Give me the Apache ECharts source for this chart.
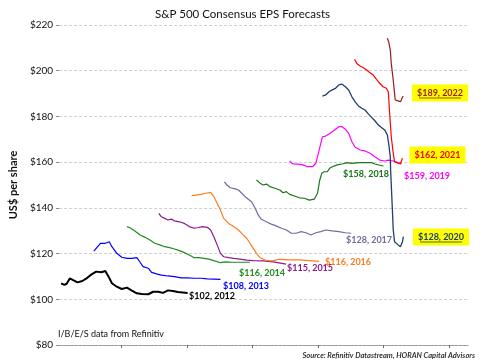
<!DOCTYPE html>
<html>
<head>
<meta charset="utf-8">
<script src="https://cdn.jsdelivr.net/npm/echarts@6/dist/echarts.min.js"></script>
<style>html,body{margin:0;padding:0;background:#fff}#c{width:485px;height:363px}</style>
</head>
<body>
<div id="c"></div>
<script>
// x = time (decimal years), y = consensus EPS (US$)
const eps2012 = [[2010.16,107.0],[2010.26,106.3],[2010.33,106.8],[2010.43,109.2],[2010.53,108.4],[2010.66,107.4],[2010.81,108.0],[2010.96,109.4],[2011.09,110.9],[2011.23,112.1],[2011.39,111.8],[2011.51,112.4],[2011.61,109.9],[2011.71,107.0],[2011.86,105.5],[2012.01,104.5],[2012.17,105.1],[2012.32,103.8],[2012.47,102.6],[2012.62,102.3],[2012.82,102.2],[2012.97,103.3],[2013.12,103.3],[2013.27,102.8],[2013.42,103.9],[2013.57,103.6],[2013.72,103.2],[2014.02,102.7]];
const eps2013 = [[2011.16,121.1],[2011.23,122.3],[2011.36,124.5],[2011.51,124.5],[2011.63,125.2],[2011.71,123.0],[2011.86,120.1],[2012.01,118.4],[2012.17,117.9],[2012.32,117.9],[2012.47,118.2],[2012.57,116.2],[2012.66,114.3],[2012.82,113.6],[2012.92,111.8],[2013.07,111.1],[2013.22,110.6],[2013.42,110.2],[2013.62,109.9],[2013.82,109.4],[2014.02,109.4],[2014.22,109.2],[2014.42,109.2],[2014.62,108.9],[2015.02,108.7]];
const eps2014 = [[2012.17,131.8],[2012.26,131.3],[2012.41,129.9],[2012.57,128.1],[2012.72,127.1],[2012.87,125.9],[2013.02,124.5],[2013.17,123.8],[2013.32,123.0],[2013.47,122.6],[2013.62,122.0],[2013.77,121.3],[2013.92,120.4],[2014.07,119.4],[2014.22,118.2],[2014.37,118.2],[2014.52,117.9],[2014.67,117.6],[2014.82,116.9],[2015.02,116.0],[2015.17,116.4],[2015.37,116.2],[2015.57,116.2],[2015.82,116.2],[2015.92,116.2]];
const eps2015 = [[2013.14,137.6],[2013.22,136.1],[2013.32,135.4],[2013.42,134.7],[2013.52,135.1],[2013.62,134.3],[2013.77,133.9],[2013.92,133.2],[2014.07,131.8],[2014.22,131.1],[2014.32,131.3],[2014.47,131.8],[2014.62,131.5],[2014.72,130.3],[2014.82,127.4],[2014.92,123.8],[2015.02,120.1],[2015.12,118.6],[2015.27,118.2],[2015.42,117.9],[2015.62,117.6],[2015.82,117.1],[2016.02,116.9],[2016.32,116.8],[2016.63,116.4],[2017.02,115.4]];
const eps2016 = [[2014.14,145.3],[2014.27,145.6],[2014.42,145.9],[2014.57,146.4],[2014.72,146.8],[2014.82,144.9],[2014.92,142.0],[2015.02,139.1],[2015.12,135.4],[2015.27,133.2],[2015.42,131.8],[2015.57,130.3],[2015.72,128.1],[2015.82,126.7],[2015.92,124.5],[2016.02,122.3],[2016.12,120.1],[2016.23,118.2],[2016.38,117.2],[2016.53,116.8],[2016.63,116.9],[2016.83,117.5],[2017.13,117.2],[2017.43,117.2],[2017.73,116.9],[2018.03,116.6]];
const eps2017 = [[2015.14,151.4],[2015.22,150.0],[2015.32,148.8],[2015.47,148.3],[2015.57,147.8],[2015.67,146.4],[2015.77,144.9],[2015.87,143.8],[2015.97,142.7],[2016.08,139.8],[2016.17,136.9],[2016.27,135.0],[2016.42,133.9],[2016.57,132.9],[2016.72,132.1],[2016.88,131.1],[2017.03,130.3],[2017.18,128.9],[2017.33,128.9],[2017.48,129.6],[2017.63,129.1],[2017.78,128.1],[2017.93,129.1],[2018.08,129.6],[2018.23,130.3],[2018.43,129.9],[2018.63,129.6],[2018.83,129.1],[2019.01,128.9]];
const eps2018 = [[2016.12,152.2],[2016.23,150.8],[2016.32,150.0],[2016.42,150.4],[2016.53,149.3],[2016.68,148.6],[2016.83,147.8],[2016.93,146.6],[2017.03,147.1],[2017.13,145.9],[2017.28,145.2],[2017.43,144.4],[2017.58,144.2],[2017.73,143.4],[2017.88,143.8],[2017.98,146.4],[2018.05,152.2],[2018.11,155.1],[2018.18,155.8],[2018.28,155.8],[2018.35,157.3],[2018.43,158.0],[2018.58,158.8],[2018.73,159.2],[2018.88,159.8],[2019.03,159.5],[2019.23,159.8],[2019.43,159.8],[2019.63,159.8],[2019.73,159.2],[2019.99,158.3]];
const eps2019 = [[2017.13,160.5],[2017.23,159.2],[2017.38,159.1],[2017.53,158.8],[2017.68,158.0],[2017.83,158.0],[2017.93,159.5],[2018.03,165.3],[2018.13,171.1],[2018.23,171.4],[2018.33,172.3],[2018.43,173.3],[2018.53,174.4],[2018.63,175.5],[2018.73,175.5],[2018.83,174.4],[2018.93,172.6],[2019.03,168.9],[2019.13,166.5],[2019.28,165.3],[2019.43,164.9],[2019.58,163.9],[2019.73,162.4],[2019.88,160.9],[2020.03,160.5],[2020.14,160.9],[2020.29,160.5],[2020.44,159.8],[2020.54,159.5]];
const eps2020 = [[2018.13,188.9],[2018.23,189.4],[2018.33,190.8],[2018.43,191.6],[2018.53,192.3],[2018.63,193.8],[2018.73,194.1],[2018.83,193.0],[2018.93,191.6],[2019.03,188.6],[2019.13,186.4],[2019.23,184.6],[2019.33,183.6],[2019.43,182.8],[2019.53,181.1],[2019.63,179.6],[2019.73,178.1],[2019.83,176.3],[2019.93,175.2],[2020.03,174.1],[2020.11,171.9],[2020.15,168.2],[2020.20,162.4],[2020.21,156.6],[2020.26,140.5],[2020.29,130.3],[2020.33,125.2],[2020.44,123.8],[2020.51,123.0],[2020.57,125.2],[2020.60,127.4]];
const eps2021 = [[2019.11,205.0],[2019.18,203.2],[2019.28,202.1],[2019.38,201.3],[2019.48,200.3],[2019.58,199.1],[2019.68,198.1],[2019.78,196.2],[2019.88,194.5],[2019.98,193.0],[2020.08,192.3],[2020.14,190.8],[2020.18,181.4],[2020.23,171.1],[2020.29,163.9],[2020.33,160.2],[2020.44,159.5],[2020.51,159.2],[2020.57,161.7]];
const eps2022 = [[2020.11,214.2],[2020.15,212.7],[2020.20,209.1],[2020.23,203.2],[2020.29,195.9],[2020.32,191.6],[2020.35,187.2],[2020.44,186.8],[2020.51,186.4],[2020.59,188.9]];

const seriesNames = ['2012','2013','2014','2015','2016','2017','2018','2019','2020','2021','2022'];
const seriesData = [eps2012,eps2013,eps2014,eps2015,eps2016,eps2017,eps2018,eps2019,eps2020,eps2021,eps2022];
const finalEps = ['$102','$108','$116','$115','$116','$128','$158','$159','$128','$162','$189'];
const yTicks = [80,100,120,140,160,180,200,220];
const xTicks = [2012,2014,2016,2018,2020,2022];

const colors = ['#000000','#0000ff','#1e8c1e','#8c1a8c','#ff7c1c','#6e6e9e','#1b731b','#ff00ff','#1f3f6e','#ff0000','#9c1c1c'];
const widths = [2,1.2,1.2,1.2,1.2,1.2,1.2,1.2,1.3,1.2,1.2];
// annotation placement (left x / center x for boxed, center y)
const labelPos = [[189,296],[223,286],[239,273],[287,268],[325,262],[346,240],[343,174],[404,176],[441,237],[437.5,155],[440,93]];
const boxed = [false,false,false,false,false,false,false,false,true,true,true];
const underlined = [false,false,false,false,false,false,false,false,true,false,true];

const FONT = 'Lato, "Open Sans", sans-serif';
const chart = echarts.init(document.getElementById('c'), null, {renderer:'canvas'});

const graphics = [];
seriesNames.forEach((n,i)=>{
  const txt = finalEps[i] + ', ' + n;
  if (boxed[i]) {
    graphics.push({type:'text', x:labelPos[i][0], y:labelPos[i][1], z:10, style:{text:txt, fill:colors[i], font:'bold 9px '+FONT, align:'center', verticalAlign:'middle', backgroundColor:'#ffff00', padding:[4,5,4,5]}});
    if (underlined[i]) {
      graphics.push({type:'line', z:11, shape:{x1:labelPos[i][0]-21, y1:labelPos[i][1]+5, x2:labelPos[i][0]+21, y2:labelPos[i][1]+5}, style:{stroke:colors[i], lineWidth:0.8}});
    }
  } else {
    graphics.push({type:'text', x:labelPos[i][0], y:labelPos[i][1], z:10, style:{text:txt, fill:colors[i], font:'bold 9px '+FONT, align:'left', verticalAlign:'middle'}});
  }
});
graphics.push({type:'text', left:58, top:330, style:{text:'I/B/E/S data from Refinitiv', fill:'#111', font:'9px '+FONT}});
graphics.push({type:'text', right:10, top:352, style:{text:'Source: Refinitiv Datastream, HORAN Capital Advisors', fill:'#333', font:'italic bold 7.5px '+FONT}});

chart.setOption({
  animation:false,
  title:{text:'S&P 500 Consensus EPS Forecasts', left:'center', top:3, textStyle:{fontFamily:FONT, fontSize:11.5, fontWeight:'normal', color:'#111'}},
  grid:{left:53.3, right:17, top:25, bottom:18, containLabel:false},
  xAxis:{type:'value', min:2010.1, max:2022.57,
    axisLine:{show:true, lineStyle:{color:'#9a9a9a', type:[3,1]}},
    axisTick:{show:true, inside:false, length:3, customValues:xTicks, lineStyle:{color:'#666'}},
    axisLabel:{show:false}, splitLine:{show:false}},
  yAxis:{type:'value', min:yTicks[0], max:yTicks[yTicks.length-1], interval:20,
    name:'US$ per share', nameLocation:'middle', nameGap:36, nameRotate:90,
    nameTextStyle:{fontFamily:FONT, fontSize:11, fontWeight:'bold', color:'#111'},
    axisLine:{show:false},
    axisTick:{show:true, length:3, lineStyle:{color:'#888'}},
    axisLabel:{formatter:'${value}', fontFamily:FONT, fontSize:10, color:'#111', margin:6},
    splitLine:{show:true, lineStyle:{color:'#d0d0d0', type:[3,2]}}},
  series: seriesNames.map((n,i)=>({
    name:n, type:'line', data:seriesData[i], showSymbol:false, symbol:'none',
    lineStyle:{color:colors[i], width:widths[i]}, itemStyle:{color:colors[i]}, z: 2+i
  })),
  graphic: graphics
});
</script>
</body>
</html>
